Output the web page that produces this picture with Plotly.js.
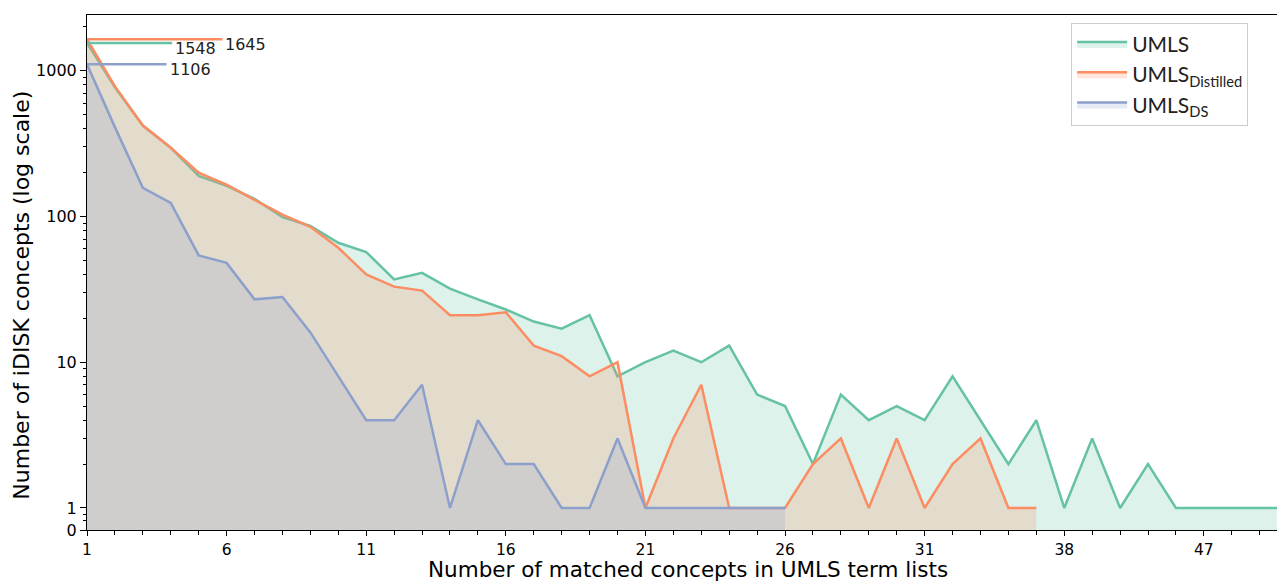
<!DOCTYPE html>
<html><head><meta charset="utf-8">
<script src="https://cdn.plot.ly/plotly-3.0.1.min.js"></script>
<style>html,body{margin:0;padding:0;background:#fff}#chart{width:1277px;height:581px}</style>
</head><body><div id="chart"></div>
<script>
// ---- data ----
const seriesNames = ['UMLS', 'UMLS<sub>Distilled</sub>', 'UMLS<sub>DS</sub>'];
// value per ordinal position of "number of matched concepts"
const umls = [1548, 770, 420, 296, 190, 162, 132, 99, 86, 66, 57, 37, 41, 32, 27, 23, 19, 17, 21, 8,
              10, 12, 10, 13, 6, 5, 2, 6, 4, 5, 4, 8, 4, 2, 4, 1, 3, 1, 2, 1, 1, 1, 1, 1];
const umlsDistilled = [1645, 780, 420, 296, 200, 165, 130, 103, 85, 61, 40, 33, 31, 21, 21, 22, 13, 11, 8, 10,
              1, 3, 7, 1, 1, 1, 2, 3, 1, 3, 1, 2, 3, 1, 1];
const umlsDS = [1106, 410, 157, 124, 54, 48, 27, 28, 16, 8, 4, 4, 7, 1, 4, 2, 2, 1, 1, 3, 1, 1, 1, 1, 1, 1];
const tickPositions = [0, 5, 10, 15, 20, 25, 30, 35, 40];
const tickLabels = ['1', '6', '11', '16', '21', '26', '31', '38', '47'];
const yTickValues = [1, 10, 100, 1000];
const yTickLabels = ['1', '10', '100', '1000'];
const xTitle = 'Number of matched concepts in UMLS term lists';
const yTitle = 'Number of iDISK concepts (log scale)';

// ---- style ----
const colors = ['#66c2a5', '#fc8d62', '#8da0cb'];
const fills = ['rgba(102,194,165,0.22)', 'rgba(252,141,98,0.22)', 'rgba(141,160,203,0.22)'];
const refLineEnd = [3.05, 4.85, 2.85];     // length of the top-left reference segments (axis index units)
const ZERO_POS = 0.706;                     // where the "0" tick of the symlog-like axis sits
const allSeries = [umls, umlsDistilled, umlsDS];

const traces = [];
allSeries.forEach((s, i) => {
  traces.push({
    type: 'scatter', mode: 'lines', name: seriesNames[i],
    x: s.map((_, k) => k), y: s,
    line: {color: colors[i], width: 2.5},
    fill: 'tozeroy', fillcolor: fills[i],
    legendgroup: 'g' + i, hoverinfo: 'skip'
  });
});
const annotations = [];
allSeries.forEach((s, i) => {
  traces.push({
    type: 'scatter', mode: 'lines', showlegend: false, hoverinfo: 'skip',
    x: [0, refLineEnd[i]], y: [s[0], s[0]],
    line: {color: colors[i], width: 2.5}
  });
  annotations.push({
    x: refLineEnd[i], y: Math.log10(s[0]), xref: 'x', yref: 'y',
    text: String(s[0]), showarrow: false, xanchor: 'left', yanchor: 'middle',
    xshift: 1, yshift: -5,
    font: {family: 'DejaVu Sans', size: 16, color: '#222'}
  });
});
// axis titles placed as in the reference
annotations.push({
  text: yTitle, xref: 'paper', yref: 'paper', x: -0.0546, y: 0.455,
  xanchor: 'center', yanchor: 'middle', textangle: -90, showarrow: false,
  font: {family: 'DejaVu Sans', size: 22, color: 'black'}
});
annotations.push({
  text: xTitle, xref: 'paper', yref: 'paper', x: 0.505, y: 0, yshift: -39,
  xanchor: 'center', yanchor: 'middle', showarrow: false,
  font: {family: 'DejaVu Sans', size: 21.5, color: 'black'}
});

const minorY = [];
[1, 10, 100, 1000].forEach(d => { for (let m = 2; m <= 9; m++) if (d * m < 2400) minorY.push(d * m); });
minorY.push(0.82, 0.9);

const layout = {
  width: 1277, height: 581,
  margin: {l: 87, r: 0, t: 15, b: 51},
  paper_bgcolor: 'white', plot_bgcolor: 'white',
  hovermode: false,
  showlegend: true,
  legend: {x: 0.827, y: 0.985, xanchor: 'left', yanchor: 'top', bgcolor: 'white',
           bordercolor: '#cccccc', borderwidth: 1, itemwidth: 50,
           font: {family: 'Lato', size: 21, color: '#222'},
           traceorder: 'grouped', tracegroupgap: 0},
  annotations: annotations,
  xaxis: {
    range: [0, 42.62], tickmode: 'array', tickvals: tickPositions, ticktext: tickLabels,
    ticks: 'outside', ticklen: 5, tickcolor: 'black', tickwidth: 1,
    minor: {dtick: 1, tick0: 0, ticks: 'outside', ticklen: 4, tickcolor: 'black', tickwidth: 1, showgrid: false},
    showgrid: false, zeroline: false, showline: true, mirror: true, linecolor: 'black', linewidth: 1,
    tickfont: {family: 'DejaVu Sans', size: 15.5, color: 'black'}
  },
  yaxis: {
    type: 'log', range: [Math.log10(ZERO_POS), 3.382],
    tickmode: 'array', tickvals: [ZERO_POS].concat(yTickValues), ticktext: ['0'].concat(yTickLabels),
    ticks: 'outside', ticklen: 6, tickcolor: 'black', tickwidth: 1,
    minor: {tickmode: 'array', tickvals: minorY, ticks: 'outside', ticklen: 3, tickcolor: 'black', tickwidth: 1, showgrid: false},
    showgrid: false, zeroline: false, showline: true, mirror: true, linecolor: 'black', linewidth: 1,
    tickfont: {family: 'DejaVu Sans', size: 16, color: 'black'}
  }
};

Plotly.newPlot('chart', traces, layout, {staticPlot: true, displayModeBar: false});
</script>
</body></html>
